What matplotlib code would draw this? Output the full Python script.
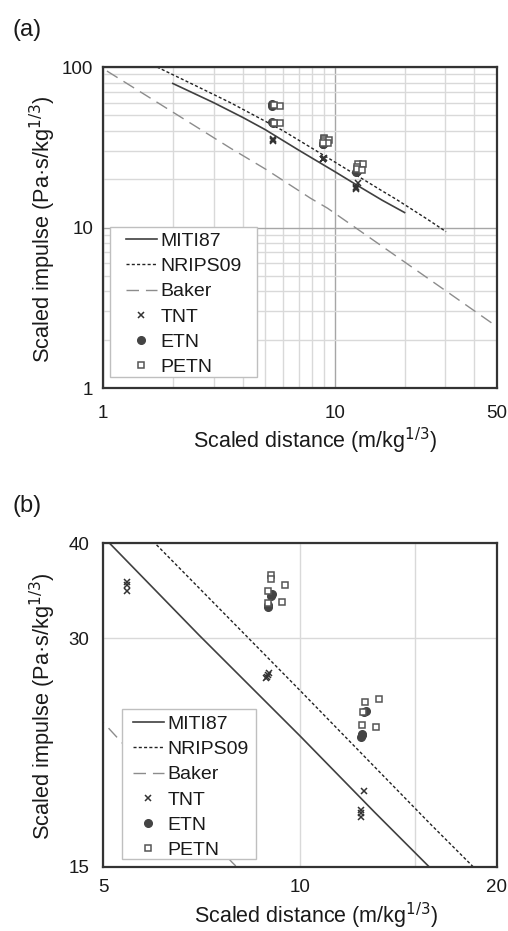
import numpy as np
import matplotlib
matplotlib.use("Agg")
import matplotlib.pyplot as plt
from matplotlib.ticker import NullFormatter, FixedLocator
from matplotlib.patches import Rectangle

plt.rcParams['font.family'] = ['Liberation Sans', 'DejaVu Sans']

miti_x = [2, 3, 4, 5, 7, 10, 13, 16, 20]
miti_y = [79, 60, 48.6, 40.8, 30.3, 22.3, 17.7, 14.8, 12.4]
nrips_x = [1.71, 2.5, 3.55, 6, 10, 15.8, 18.4, 25, 30.2]
nrips_y = [100, 76.7, 59.9, 40, 25.6, 17.1, 15, 11.3, 9.42]
baker_x = [1.04, 2, 3.55, 5.03, 7.87, 9.3, 20, 48.9]
baker_y = [94.4, 52.4, 31.2, 23.1, 15.2, 13.2, 6.1, 2.47]

# measurements
tnt_x = [5.43, 5.43, 5.43, 8.88, 8.92, 8.95, 8.90, 12.54, 12.38, 12.38, 12.38]
tnt_y = [35.6, 35.3, 34.6, 26.6, 26.8, 27.0, 26.7, 18.87, 17.81, 17.67, 17.46]
etn_x = [5.35, 5.38, 5.37, 5.40, 8.92, 8.93, 9.05, 9.03, 12.6, 12.55, 12.40, 12.42, 12.44]
etn_y = [58.5, 57.5, 45.3, 44.8, 33.0, 33.2, 34.3, 34.1, 24.07, 24.0, 22.25, 22.35, 22.45]
petn_x = [5.80, 5.45, 5.80, 5.45, 9.02, 9.02, 8.94, 9.48, 9.39, 8.93,
          12.59, 13.22, 12.47, 12.43, 13.08]
petn_y = [57.3, 58.0, 44.6, 45.0, 36.3, 35.86, 34.6, 35.3, 33.5, 33.4,
          24.73, 24.96, 24.0, 23.04, 22.92]

txt = '#1a1a1a'
fig = plt.figure(figsize=(5.08, 9.31), dpi=100)
ax1 = fig.add_axes([0.2028, 0.5832, 0.7752, 0.3448])
ax2 = fig.add_axes([0.2034, 0.0691, 0.7744, 0.3473])


def draw(ax):
    ax.plot(miti_x, miti_y, '-', color='#404040', lw=1.2, label='MITI87', zorder=3)
    ax.plot(nrips_x, nrips_y, color='#222222', lw=1.0, ls=(0, (2.2, 1.6)),
            label='NRIPS09', zorder=3)
    ax.plot(baker_x, baker_y, color='#8c8c8c', lw=1.0, ls=(0, (9, 5)),
            label='Baker', zorder=3)
    ax.plot(tnt_x, tnt_y, 'x', color='#333333', ms=5, mew=1.1, label='TNT', zorder=4)
    ax.plot(etn_x, etn_y, 'o', color='#444444', ms=5.5, label='ETN', zorder=4)
    ax.plot(petn_x, petn_y, 's', mfc='white', mec='#555555', ms=5, mew=1.1,
            label='PETN', zorder=5)
    ax.set_xscale('log')
    ax.set_yscale('log')
    for s in ax.spines.values():
        s.set_color('#333333')
        s.set_linewidth(1.6)
        s.set_zorder(6)
    ax.tick_params(which='both', length=0, labelsize=13.5, colors=txt)
    ax.xaxis.set_minor_formatter(NullFormatter())
    ax.yaxis.set_minor_formatter(NullFormatter())
    ax.set_axisbelow(True)


def legend(ax, anchor, box):
    leg = ax.legend(loc='upper left', bbox_to_anchor=anchor, borderaxespad=0,
                    fontsize=14, frameon=False, handlelength=1.6,
                    handletextpad=0.2, labelspacing=0.39, borderpad=0)
    for t in leg.get_texts():
        t.set_color(txt)
    leg.set_zorder(8)
    ax.add_patch(Rectangle(box[:2], box[2], box[3], transform=ax.transAxes,
                           facecolor='white', edgecolor='#bfbfbf', lw=1.0,
                           zorder=7))


# panel (a)
draw(ax1)
ax1.set_xlim(1, 50)
ax1.set_ylim(1, 100)
ax1.xaxis.set_major_locator(FixedLocator([1, 10, 50]))
ax1.xaxis.set_minor_locator(FixedLocator([2, 3, 4, 5, 6, 7, 8, 9, 20, 30, 40]))
ax1.yaxis.set_major_locator(FixedLocator([1, 10, 100]))
ax1.yaxis.set_minor_locator(FixedLocator([2, 3, 4, 5, 6, 7, 8, 9,
                                          20, 30, 40, 50, 60, 70, 80, 90]))
ax1.set_xticklabels(['1', '10', '50'])
ax1.set_yticklabels(['1', '10', '100'])
ax1.tick_params(axis='x', pad=12)
ax1.tick_params(axis='y', pad=7)
ax1.grid(which='minor', color='#d9d9d9', lw=1.0)
ax1.grid(which='major', color='#a6a6a6', lw=1.0)
legend(ax1, (0.058, 0.485), (0.018, 0.034, 0.373, 0.467))

# panel (b)
draw(ax2)
ax2.set_xlim(5, 20)
ax2.set_ylim(15, 40)
ax2.xaxis.set_major_locator(FixedLocator([5, 10, 20]))
ax2.xaxis.set_minor_locator(FixedLocator([15]))
ax2.yaxis.set_major_locator(FixedLocator([15, 30, 40]))
ax2.yaxis.set_minor_locator(FixedLocator([]))
ax2.set_xticklabels(['5', '10', '20'])
ax2.set_yticklabels(['15', '30', '40'])
ax2.tick_params(axis='x', pad=9)
ax2.tick_params(axis='y', pad=10)
ax2.grid(which='both', color='#d9d9d9', lw=1.0)
legend(ax2, (0.0747, 0.468), (0.0468, 0.0229, 0.341, 0.464))

for ax, xl in ((ax1, (0.539, -0.118)), (ax2, (0.54, -0.106))):
    ax.set_xlabel('Scaled distance (m/kg$^{1/3}$)', fontsize=15.5, color=txt)
    ax.xaxis.set_label_coords(*xl)
    ax.set_ylabel('Scaled impulse (Pa·s/kg$^{1/3}$)', fontsize=15.7, color=txt)
    ax.yaxis.set_label_coords(-0.114, 0.495)

fig.text(13 / 508, 1 - 19 / 931, '(a)', fontsize=17, color=txt, va='top')
fig.text(13 / 508, 1 - 495 / 931, '(b)', fontsize=17, color=txt, va='top')

fig.savefig('out.png', dpi=100)
